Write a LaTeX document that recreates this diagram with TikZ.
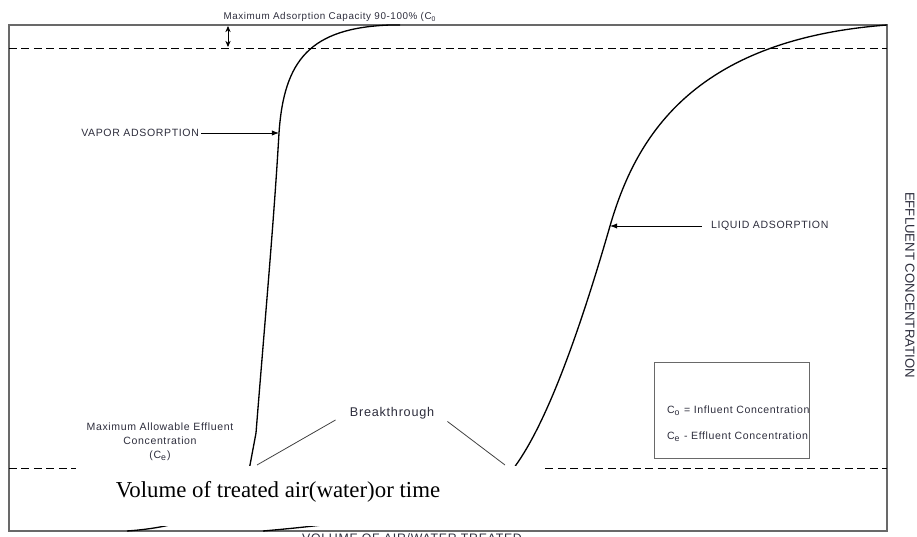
\documentclass[tikz,border=0pt]{standalone}
\usepackage{fontspec}
\setmainfont{Liberation Serif}
\newfontfamily\notefont[LetterSpace=6]{Liberation Sans}
\newfontfamily\axisfont{Liberation Sans}
\usetikzlibrary{arrows.meta, positioning, calc}
\definecolor{framegray}{RGB}{105,105,105}
\definecolor{inkgray}{RGB}{45,45,60}

\begin{document}
\begin{tikzpicture}[
    x=0.02cm, y=-0.02cm,
    frame/.style={draw=framegray, line width=0.8pt},
    limit/.style={draw=black, dash pattern=on 4.5pt off 2.6pt, line width=0.55pt},
    curve/.style={draw=black, line width=0.75pt},
    note/.style={font=\notefont\fontsize{6}{8}\selectfont, text=inkgray, inner sep=1pt},
    pointer/.style={-{Latex[length=4pt,width=3pt]}, line width=0.55pt},
    leader/.style={draw=black!75, line width=0.45pt},
    legendbox/.style={draw=framegray, line width=0.8pt, minimum width=3.1cm, minimum height=1.92cm, inner sep=0pt}
]
    \useasboundingbox (0,0) rectangle (917,537);

    % frame and limit lines
    \draw[frame] (9,25) rectangle (887,531);
    \draw[limit] (9,48) -- (887,48);
    \draw[limit] (9,468) -- (887,468);

    % points on the curves
    \coordinate (vaportip) at (279,133);
    \coordinate (vaporfoot) at (250,465);
    \coordinate (liquidtip) at (610,226);
    \coordinate (liquidfoot) at (516,465);
    \coordinate (vaporbreak) at (257,465);
    \coordinate (liquidbreak) at (505,465);

    % breakthrough curves
    \draw[curve] (127,531) .. controls (200,526) and (243,500) .. (vaporfoot)
        -- (256,433) .. controls (265,320) and (274,220) .. (vaportip)
        .. controls (284,60) and (310,28) .. (390,25) -- (400,25);
    \draw[curve] (263,531) .. controls (320,526) and (490,510) .. (liquidfoot)
        .. controls (548,420) and (580,330) .. (liquidtip)
        .. controls (635,140) and (690,40) .. (887,25);

    % patch with the axis caption
    \fill[white] (76,466) rectangle (541,526);
    \node[font=\fontsize{13}{15}\selectfont, inner sep=0pt] (volume) at (278,492) {Volume of treated air(water)or time};

    % capacity
    \node[note, font=\notefont\fontsize{5.6}{7}\selectfont] (capacity) at (330,17) {Maximum Adsorption Capacity 90-100\% (C\textsubscript{0}};
    \coordinate (captop) at (228,26);
    \coordinate (capbot) at (228,47);
    \draw[{Stealth[length=3.5pt,width=3pt]}-{Stealth[length=3.5pt,width=3pt]}, line width=0.5pt] (captop) -- (capbot);

    % curve labels
    \node[note, anchor=east] (vapor) at (201,133) {VAPOR ADSORPTION};
    \draw[pointer] (vapor) -- (vaportip);
    \node[note, anchor=west] (liquid) at (709,226) {LIQUID ADSORPTION};
    \draw[pointer, shorten <=4pt] (liquid) -- (liquidtip);

    % breakthrough
    \node[note, font=\notefont\fontsize{7.2}{9}\selectfont] (breakthrough) at (392,413) {Breakthrough};
    \draw[leader, shorten <=8pt] (breakthrough.west) -- (vaporbreak);
    \draw[leader, shorten <=8pt] (breakthrough.east) -- (liquidbreak);

    \node[note, align=center] (allowable) at (160,442) {Maximum Allowable Effluent\\Concentration\\(C\textsubscript{e})};

    % legend
    \node[legendbox, anchor=north west] (legend) at (654,362) {};
    \node[note, anchor=west] (influent) at (665,411) {C\textsubscript{o} = Influent Concentration};
    \node[note, anchor=west] (effluent) at (665,437) {C\textsubscript{e} - Effluent Concentration};

    % axis titles, cut by the page edge
    \node[note, font=\axisfont\fontsize{7.5}{9}\selectfont, rotate=-90] (conc) at (910,285) {EFFLUENT CONCENTRATION};
    \node[note, font=\notefont\fontsize{7}{8}\selectfont, anchor=base] (volaxis) at (412,542) {VOLUME OF AIR/WATER TREATED};
\end{tikzpicture}
\end{document}
